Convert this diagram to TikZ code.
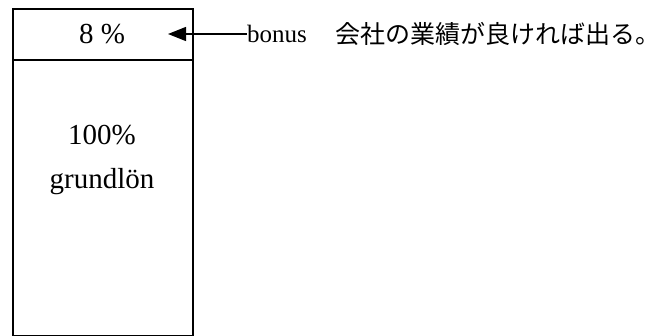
\documentclass[tikz,border=0pt]{standalone}
\usepackage{fontspec}
\setmainfont{Liberation Serif}
\newfontfamily\cjk{Noto Sans CJK JP}
\usetikzlibrary{arrows.meta}
\tikzset{
  cell/.style={draw, line width=1.6pt, inner sep=0pt, anchor=north west},
  boxtext/.style={font=\fontsize{29}{32}\selectfont, inner sep=0pt},
  labeltext/.style={font=\fontsize{25}{28}\selectfont, inner sep=0pt, anchor=west},
  pointer/.style={line width=1.3pt, -{Triangle[length=18pt,width=14pt]}}
}
\begin{document}
\begin{tikzpicture}[x=1pt,y=-1pt]
\useasboundingbox (0,0) rectangle (663,336);
\node[cell, minimum width=180pt, minimum height=51pt] (top) at (12,8) {};
\node[cell, minimum width=180pt, minimum height=276pt] (base) at (12,59) {};
\node[boxtext] (pct) at (102,34) {8 \%};
\node[boxtext] (full) at (102,135) {100\%};
\node[boxtext] (grund) at (102,182) {grundlön};
\node[labeltext] (bonus) at (247,34) {bonus};
\node[labeltext, font=\cjk\fontsize{25}{28}\selectfont] (note) at (335,34) {会社の業績が良ければ出る。};
\coordinate (tip) at (168,34);
\draw[pointer] (bonus.west) -- (tip);
\end{tikzpicture}
\end{document}
